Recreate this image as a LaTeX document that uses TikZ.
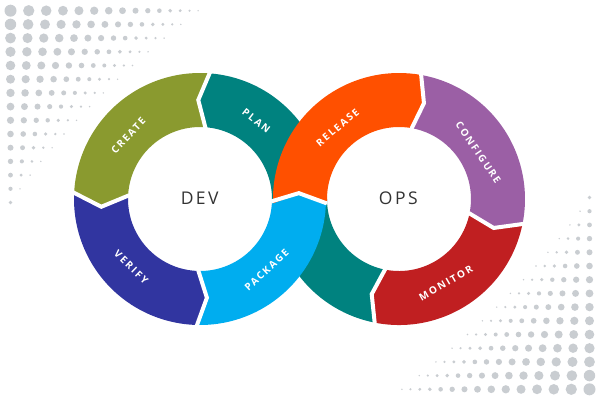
\documentclass[tikz,border=0pt]{standalone}
\usepackage{fontspec}
\setmainfont{Open Sans}
\newfontfamily\lblfont{Open Sans}[LetterSpace=18]
\newfontfamily\bigfont{Open Sans}[LetterSpace=14]
\usetikzlibrary{calc}
\definecolor{cOlive}{HTML}{8A9A2F}
\definecolor{cTeal}{HTML}{00827F}
\definecolor{cNavy}{HTML}{3135A0}
\definecolor{cSky}{HTML}{00ADEF}
\definecolor{cOrange}{HTML}{FF5000}
\definecolor{cPurple}{HTML}{9B5FA5}
\definecolor{cRed}{HTML}{C01F21}
\definecolor{cDot}{HTML}{C9CDD1}
\definecolor{cText}{HTML}{333333}
% center, tail base, tail tip, head base, head tip, colour
\newcommand\ringseg[6]{%
  \fill[#6] ($(#1)+(#2:126pt)$) arc[start angle=#2,end angle=#4,radius=126pt]
    -- ($(#1)+(#5:99pt)$) -- ($(#1)+(#4:72pt)$)
    arc[start angle=#4,end angle=#2,radius=72pt]
    -- ($(#1)+(#3:99pt)$) -- cycle;}
% center, base, tip
\newcommand\gapline[3]{%
  \draw[gapstyle] ($(#1)+(#2:127pt)$) -- ($(#1)+(#3:99pt)$) -- ($(#1)+(#2:71pt)$);}
\begin{document}
\begin{tikzpicture}[x=1pt,y=1pt,
  gapstyle/.style={white,line width=4pt,line join=miter},
  seglabel/.style={text=white,font=\lblfont\bfseries\fontsize{10}{10}\selectfont,inner sep=0pt},
  ringlabel/.style={text=cText,font=\bigfont\fontsize{17.5}{18}\selectfont,inner sep=0pt}]
\useasboundingbox (0,0) rectangle (600,400);
\fill[white] (0,0) rectangle (600,400);
% dot patterns
\foreach \i in {0,...,14}{
  \pgfmathtruncatemacro\n{15-\i}
  \pgfmathtruncatemacro\m{\n-1}
  \pgfmathsetmacro\Dz{12-0.6*\i}
  \pgfmathsetmacro\s{(\Dz-1.6)/max(\n-1,1)}
  \pgfmathsetmacro\yy{389.3-13.7*\i}
  \pgfmathsetmacro\yb{400-\yy}
  \foreach \j in {0,...,\m}{
    \pgfmathsetmacro\rr{(\Dz-\s*\j)/2}
    \pgfmathsetmacro\xx{10.5+\j*(6.6+\Dz)-\s*\j*\j/2}
    \pgfmathsetmacro\xb{600-\xx}
    \fill[cDot] (\xx pt,\yy pt) circle[radius=\rr pt];
    \fill[cDot] (\xb pt,\yb pt) circle[radius=\rr pt];
  }
}
\coordinate (dev) at (200pt,201pt);
\coordinate (ops) at (399pt,201pt);
% under-strands (teal)
\ringseg{ops}{-101}{-106}{-180}{-180}{cTeal}
\ringseg{dev}{-3}{-3}{85.5}{91}{cTeal}
% over-strands
\ringseg{dev}{268.5}{274}{358}{363.4}{cSky}
\ringseg{ops}{182}{176.5}{80}{75.4}{cOrange}
\ringseg{ops}{80}{75.4}{-11.3}{-17}{cPurple}
\ringseg{ops}{-11.3}{-17}{-101}{-106}{cRed}
\ringseg{dev}{85.5}{91}{177}{184.5}{cOlive}
\ringseg{dev}{177}{184.5}{268.5}{274}{cNavy}
% white gaps between segments
\gapline{dev}{85.5}{91}
\gapline{dev}{177}{184.5}
\gapline{dev}{268.5}{274}
\gapline{dev}{358}{363.4}
\gapline{ops}{80}{75.4}
\gapline{ops}{-11.3}{-17}
\gapline{ops}{-101}{-106}
% labels
\node[seglabel,rotate=47] (create) at (128.3,264.2) {CREATE};
\node[seglabel,rotate=-38] (plan) at (256.3,279.2) {PLAN};
\node[seglabel,rotate=-44] (verify) at (131.2,132.8) {VERIFY};
\node[seglabel,rotate=43] (package) at (266.7,130) {PACKAGE};
\node[seglabel,rotate=40] (release) at (337.5,272.5) {RELEASE};
\node[seglabel,rotate=-56] (configure) at (478.3,247.5) {CONFIGURE};
\node[seglabel,rotate=30] (monitor) at (445.8,116.7) {MONITOR};
\node[ringlabel] (devtxt) at (199.7,201.3) {DEV};
\node[ringlabel] (opstxt) at (398.3,201.7) {OPS};
\end{tikzpicture}
\end{document}
